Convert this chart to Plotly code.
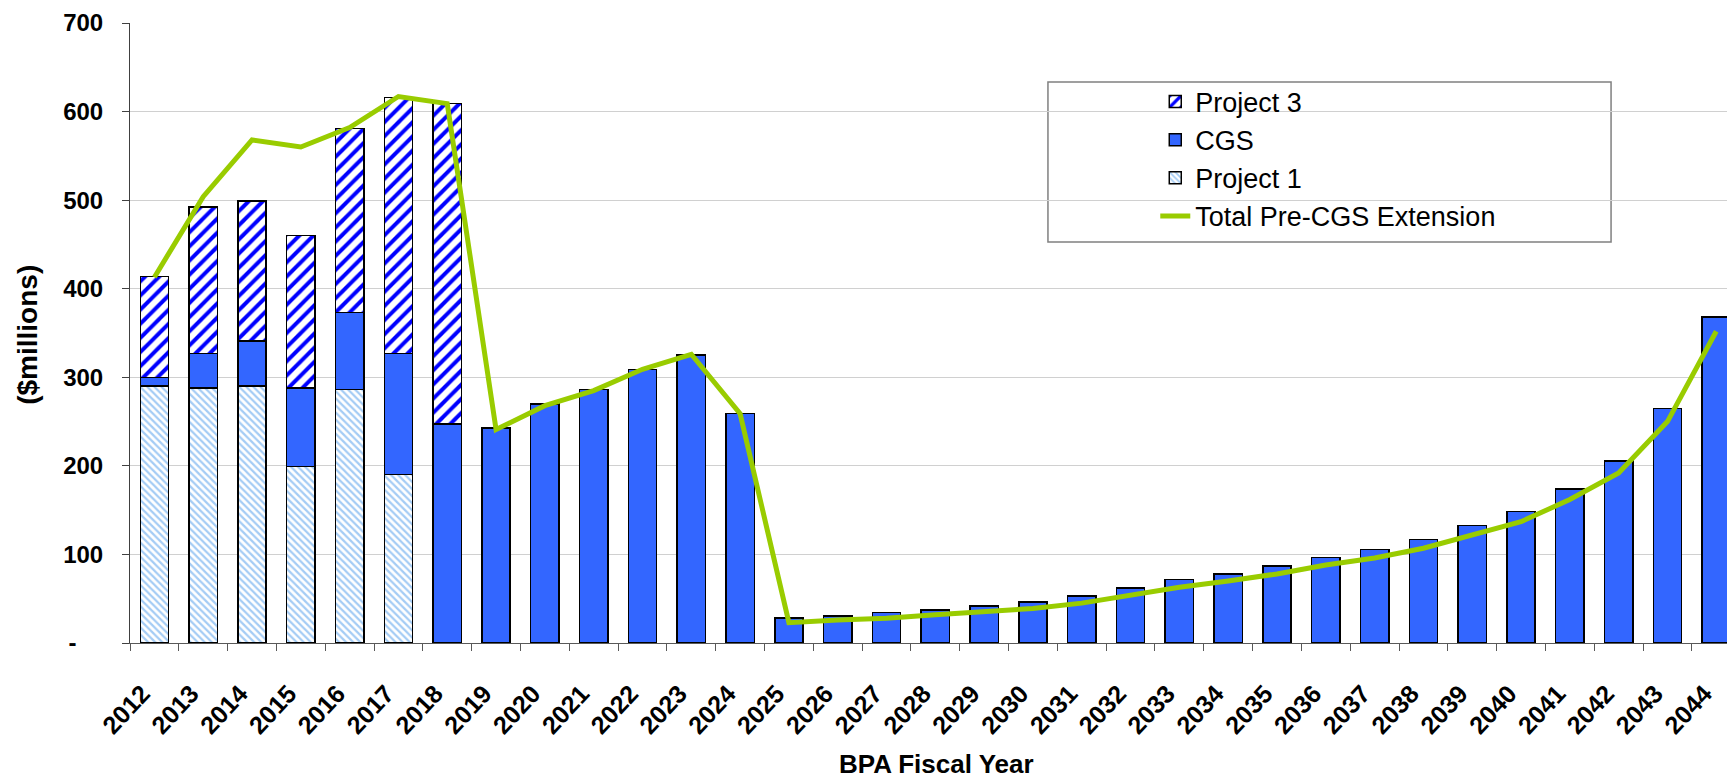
import plotly.graph_objects as go

years = [str(y) for y in range(2012, 2045)]

project1 = [290, 288, 290, 199, 286, 190] + [None] * 27
cgs = [10, 39, 51, 89, 87, 137, 247, 243, 270, 286, 309, 325, 259, 28, 30.5,
       34.5, 37, 42, 46.5, 53, 62, 71.5, 78, 87, 96.5, 105.5, 117, 132.5,
       148.5, 174, 205.5, 265, 368]
project3 = [114, 165, 158, 172, 208, 289, 362] + [None] * 26
total_pre = [413, 504, 568, 560, 582, 617, 609, 241, 268, 285, 309, 326, 259,
             23, 26, 28, 32, 36, 39, 45, 54, 63, 70, 78, 88, 96, 107, 122, 137,
             162, 192, 250, 352]

ytick_vals = [0, 100, 200, 300, 400, 500, 600, 700]
ytick_text = ["-\u00a0\u00a0\u00a0\u00a0", "100", "200", "300", "400", "500", "600", "700"]

FONT = "Liberation Sans, Arial, sans-serif"
outline = dict(color="#000000", width=1.5)

fig = go.Figure()
fig.add_trace(go.Bar(
    x=years, y=project1, name="Project 1", legendrank=3,
    marker=dict(color="#ffffff", line=outline,
                pattern=dict(shape="\\", size=5, solidity=0.45,
                             fgcolor="#a4ccf5", bgcolor="#ffffff", fillmode="replace")),
))
fig.add_trace(go.Bar(
    x=years, y=cgs, name="CGS", legendrank=2,
    marker=dict(color="#3366ff", line=outline),
))
fig.add_trace(go.Bar(
    x=years, y=project3, name="Project 3", legendrank=1,
    marker=dict(color="#ffffff", line=outline,
                pattern=dict(shape="/", size=10, solidity=0.4,
                             fgcolor="#0000ff", bgcolor="#ffffff", fillmode="replace")),
))
fig.add_trace(go.Scatter(
    x=years, y=total_pre, name="Total Pre-CGS Extension", legendrank=4,
    mode="lines", line=dict(color="#99cc00", width=5),
))

fig.update_layout(
    width=1727, height=781,
    margin=dict(l=130, r=0, t=23, b=138),
    paper_bgcolor="#ffffff", plot_bgcolor="#ffffff",
    barmode="stack", bargap=0.42,
    font=dict(family=FONT, color="#000000"),
    showlegend=True,
    legend=dict(
        x=0.642, y=0.912, xanchor="left", yanchor="top",
        traceorder="normal", bgcolor="rgba(0,0,0,0)", borderwidth=0,
        font=dict(family=FONT, size=27, color="#000000"),
    ),
    xaxis=dict(
        type="category", range=[-0.5, 32.22],
        tickangle=-47, tickfont=dict(family=FONT, size=25, color="#000000", weight="bold"),
        ticks="outside", ticklen=7, tickcolor="#595959", tickson="boundaries",
        ticklabelstandoff=25, ticklabelshift=-12,
        showline=True, linecolor="#595959", linewidth=1,
        showgrid=False, zeroline=False,
    ),
    yaxis=dict(
        range=[0, 700], tickvals=ytick_vals, ticktext=ytick_text,
        tickfont=dict(family=FONT, size=24, color="#000000", weight="bold"),
        ticks="outside", ticklen=7, tickcolor="#404040",
        ticklabelstandoff=14,
        showline=True, linecolor="#404040", linewidth=1,
        showgrid=True, gridcolor="#d0d0d0", gridwidth=1, zeroline=False,
    ),
    shapes=[dict(
        type="rect", xref="paper", yref="paper", layer="between",
        x0=0.5748, x1=0.9274, y0=0.6468, y1=0.9048,
        line=dict(color="#808080", width=1.5), fillcolor="#ffffff",
    )],
    annotations=[
        dict(text="<b>BPA Fiscal Year</b>", xref="paper", yref="paper",
             x=0.505, y=-0.2226, xanchor="center", yanchor="bottom",
             showarrow=False, font=dict(family=FONT, size=26, color="#000000")),
        dict(text="<b>($millions)</b>", xref="paper", yref="paper",
             x=-0.0639, y=0.497, xanchor="center", yanchor="middle", textangle=-90,
             showarrow=False, font=dict(family=FONT, size=28, color="#000000")),
    ],
)

fig.write_html("out.html")
